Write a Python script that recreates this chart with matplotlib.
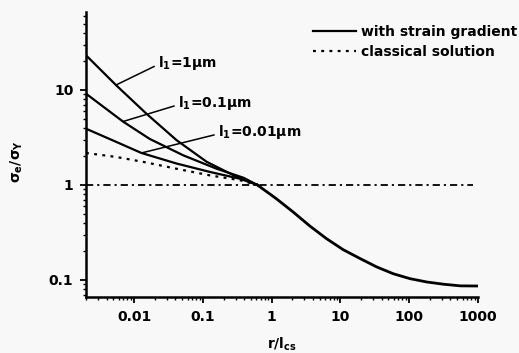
import numpy as np
import matplotlib
matplotlib.use("Agg")
import matplotlib.pyplot as plt
from matplotlib.lines import Line2D
from matplotlib.ticker import FuncFormatter, LogLocator

plt.rcParams['font.family'] = ['DejaVu Sans']
plt.rcParams['font.weight'] = 'bold'
plt.rcParams['mathtext.fontset'] = 'custom'
plt.rcParams['mathtext.rm'] = 'DejaVu Sans:bold'
plt.rcParams['mathtext.it'] = 'DejaVu Sans:bold'
plt.rcParams['mathtext.bf'] = 'DejaVu Sans:bold'

# r / l_cs values and normalised stress
r_l1_1 = [0.002, 0.0055, 0.0151, 0.0415, 0.114, 0.279, 0.62]
s_l1_1 = [23.2, 11.2, 5.63, 2.96, 1.75, 1.265, 1.0]

r_l1_01 = [0.002, 0.0069, 0.0169, 0.0519, 0.159, 0.39, 0.62]
s_l1_01 = [9.14, 4.65, 3.05, 2.05, 1.48, 1.19, 1.0]

r_l1_001 = [0.002, 0.0055, 0.0128, 0.0415, 0.127, 0.349, 0.62]
s_l1_001 = [3.91, 2.84, 2.17, 1.68, 1.37, 1.16, 1.0]

r_classic = [0.002, 0.0055, 0.0135, 0.0415, 0.127, 0.349, 0.62]
s_classic = [2.17, 1.97, 1.75, 1.48, 1.26, 1.12, 1.0]

# common outer part
r_tail = [0.62, 1.17, 2.05, 3.59, 6.28, 11.0, 19.3, 33.7, 59, 103, 181, 317, 556, 1000]
s_tail = [1.0, 0.717, 0.52, 0.37, 0.272, 0.208, 0.168, 0.137, 0.116, 0.103,
          0.095, 0.090, 0.0865, 0.0862]

r_ref = [0.002, 850]
s_ref = [1.0, 1.0]

labels = ['l$_1$=1\u03bcm', 'l$_1$=0.1\u03bcm', 'l$_1$=0.01\u03bcm']
label_pts = [(0.0055, 11.3), (0.0069, 4.65), (0.0128, 2.17)]
label_txt = [(0.0225, 19.4), (0.044, 7.3), (0.168, 3.6)]

xticks = [0.01, 0.1, 1, 10, 100, 1000]
yticks = [0.1, 1, 10]

fig = plt.figure(figsize=(5.19, 3.53), dpi=100)
fig.patch.set_facecolor('#f8f8f8')
ax = fig.add_axes([0.1657, 0.1586, 0.755, 0.807])
ax.set_facecolor('#f8f8f8')

lw = 1.6
ax.plot(r_l1_1, s_l1_1, color='black', lw=lw)
ax.plot(r_l1_01, s_l1_01, color='black', lw=lw)
ax.plot(r_l1_001, s_l1_001, color='black', lw=lw)
ax.plot(r_classic, s_classic, color='black', lw=lw, linestyle=(0, (1.3, 2.4)))
ax.plot(r_tail, s_tail, color='black', lw=lw + 0.4)
ax.plot(r_ref, s_ref, color='black', lw=1.3, linestyle=(0, (4, 2.2, 1.2, 2.2)))

for lab, pt, tx in zip(labels, label_pts, label_txt):
    ax.annotate(lab, xy=pt, xytext=tx, fontsize=10, fontweight='bold',
                ha='left', va='center',
                arrowprops=dict(arrowstyle='-', lw=1.1, color='black',
                                shrinkA=1, shrinkB=0, relpos=(0, 0.4)))

ax.set_xscale('log')
ax.set_yscale('log')
ax.set_xlim(0.002, 1000)
ax.set_ylim(0.066, 66)

ax.set_xticks(xticks)
ax.set_yticks(yticks)
fmt = FuncFormatter(lambda v, p: '%g' % v)
ax.xaxis.set_major_formatter(fmt)
ax.yaxis.set_major_formatter(fmt)
ax.xaxis.set_minor_locator(LogLocator(base=10, subs=np.arange(2, 10)))
ax.yaxis.set_minor_locator(LogLocator(base=10, subs=np.arange(2, 10)))
ax.xaxis.set_minor_formatter(plt.NullFormatter())
ax.yaxis.set_minor_formatter(plt.NullFormatter())

for side in ['top', 'right']:
    ax.spines[side].set_visible(False)
for side in ['left', 'bottom']:
    ax.spines[side].set_linewidth(1.8)

ax.tick_params(which='major', direction='out', length=4, width=1.3,
               labelsize=10, pad=5)
ax.tick_params(which='minor', direction='out', length=2.5, width=1.0)
for t in ax.get_xticklabels() + ax.get_yticklabels():
    t.set_fontweight('bold')

ax.set_xlabel('r/l$_{cs}$', fontsize=10, fontweight='bold', labelpad=9)
ax.set_ylabel('\u03c3$_e$/\u03c3$_Y$', fontsize=10, fontweight='bold')
ax.yaxis.set_label_coords(-0.155, 0.477)

handles = [Line2D([], [], color='black', lw=1.6),
           Line2D([], [], color='black', lw=1.6, linestyle=(0, (1.3, 2.4)))]
ax.legend(handles, ['with strain gradient', 'classical solution'],
          loc='upper left', bbox_to_anchor=(0.565, 0.975), frameon=False,
          handlelength=3.1, handletextpad=0.35,
          labelspacing=0.42, borderaxespad=0, prop={'weight': 'bold', 'size': 10})

fig.savefig('out.png', dpi=100, facecolor=fig.get_facecolor())
